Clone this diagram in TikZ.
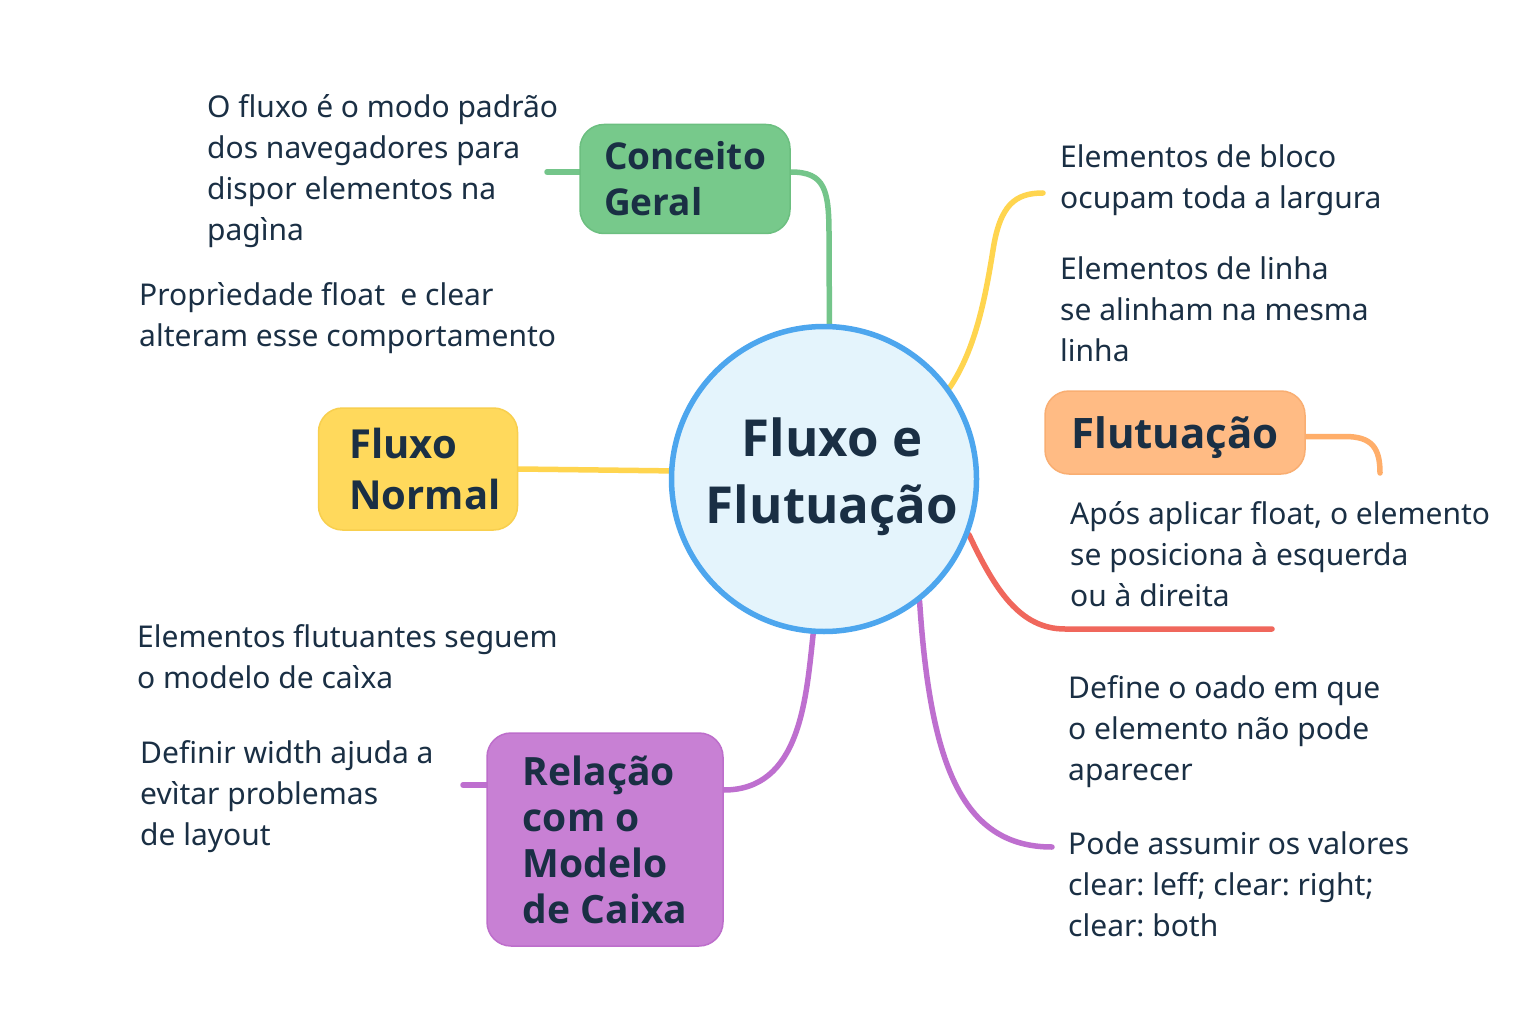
\documentclass[tikz,border=0pt]{standalone}
\usepackage{fontspec}
\setmainfont{Noto Sans}
\newfontfamily\lblfont{Open Sans}
\usetikzlibrary{backgrounds}
\definecolor{txt}{HTML}{1A2F44}
\definecolor{cgreen}{HTML}{77C98B}
\definecolor{dgreen}{HTML}{6CBF80}
\definecolor{lgreen}{HTML}{74C58A}
\definecolor{cyellow}{HTML}{FFD95C}
\definecolor{dyellow}{HTML}{F8CF4E}
\definecolor{lyellow}{HTML}{FFD54F}
\definecolor{corange}{HTML}{FFBB84}
\definecolor{dorange}{HTML}{F9AE72}
\definecolor{lorange}{HTML}{FFAE6A}
\definecolor{cpurple}{HTML}{C880D4}
\definecolor{dpurple}{HTML}{BD6ECB}
\definecolor{lpurple}{HTML}{BE6FCF}
\definecolor{cred}{HTML}{F0675C}
\definecolor{cblue}{HTML}{4DA6EE}
\definecolor{cbluefill}{HTML}{E4F4FC}
\frenchspacing
\begin{document}
\begin{tikzpicture}[x=1pt,y=-1pt,
  every node/.style={text=txt},
  note/.style={anchor=west, align=left, inner sep=0pt, font=\frenchspacing\fontsize{30}{41}\selectfont},
  topic/.style={rounded corners=24pt, align=left, inner sep=0pt, line width=1.5pt},
  link/.style={line width=5.5pt, line cap=round}]
\useasboundingbox (0,0) rectangle (1536,1024);

% central node
\node[circle, draw=cblue, line width=5.5pt, fill=cbluefill, minimum size=305pt, inner sep=0pt] (c) at (824,479) {};
\node[align=center, inner sep=0pt, font=\lblfont\bfseries\fontsize{51}{67}\selectfont] (ct) at (832,477) {Fluxo e\\Flutuação};

% topics
\node[topic, fill=cgreen, draw=dgreen, minimum width=210pt, minimum height=109pt,
      font=\lblfont\bfseries\fontsize{37}{46}\selectfont] (conc) at (685,179) {Conceito\\Geral};
\node[topic, fill=cyellow, draw=dyellow, minimum width=199pt, minimum height=122pt,
      font=\lblfont\bfseries\fontsize{40}{51}\selectfont] (fn) at (418,469) {\hspace*{14pt}Fluxo\\\hspace*{14pt}Normal};
\node[topic, fill=corange, draw=dorange, minimum width=260pt, minimum height=83pt, text depth=0pt,
      font=\lblfont\bfseries\fontsize{42}{50}\selectfont] (flu) at (1175,432.5) {Flutuação};
\node[topic, fill=cpurple, draw=dpurple, minimum width=236pt, minimum height=213pt,
      font=\lblfont\bfseries\fontsize{39}{46}\selectfont] (rel) at (605,839.5) {Relação\\com o\\Modelo\\de Caixa};

% notes
\node[note] (n1) at (207,171) {O fluxo é o modo padrão\\dos navegadores para\\dispor elementos na\\pagìna};
\node[note] (n2) at (139,318) {Proprìedade float\hspace{0.25em} e clear\\alteram esse comportamento};
\node[note] (n3) at (1060,180) {Elementos de bloco\\ocupam toda a largura};
\node[note] (n4) at (1060,309) {Elementos de linha\\se alinham na mesma\\linha};
\node[note] (n5) at (1070,554) {Após aplicar float, o elemento\\se posiciona à esquerda\\ou à direita};
\node[note] (n6) at (137,657) {Elementos flutuantes seguem\\o modelo de caìxa};
\node[note] (n7) at (140,797) {Definir width ajuda a\\evìtar problemas\\de layout};
\node[note] (n8) at (1068,732) {Define o oado em que\\o elemento não pode\\aparecer};
\node[note] (n9) at (1068,884) {Pode assumir os valores\\clear: leff; clear: right;\\clear: both};

% free ends
\coordinate (gEnd) at (547,172);
\coordinate (yEnd) at (1043,193);
\coordinate (oEnd) at (1380,473);
\coordinate (rEnd) at (1272,629);
\coordinate (pEnd) at (1052,847);
\coordinate (pStub) at (463,785);

\begin{scope}[on background layer]
  \fill[white] (0,0) rectangle (1536,1024);
  \draw[link, lgreen] (c.88) -- (829,235) .. controls (829,190) and (825,172) .. ([yshift=7pt]conc.east);
  \draw[link, lgreen] (gEnd) -- ([yshift=7pt]conc.west);
  \draw[link, lyellow] (fn.east) -- (c.177);
  \draw[link, lyellow] (c.36) .. controls (975,350) and (985,300) .. (993,250)
        .. controls (1000,205) and (1015,193) .. (yEnd);
  \draw[link, lorange] ([yshift=-4pt]flu.east) -- (1345,436.5) .. controls (1372,436.5) and (1380,448) .. (oEnd);
  \draw[link, cred] (c.-21) .. controls (995,590) and (1020,629) .. (1065,629) -- (rEnd);
  \draw[link, lpurple] (c.-94) .. controls (806,700) and (800,790) .. ([yshift=49.5pt]rel.east);
  \draw[link, lpurple] (pStub) -- ([yshift=54.5pt]rel.west);
  \draw[link, lpurple] (c.-52) .. controls (930,760) and (960,847) .. (pEnd);
\end{scope}
\end{tikzpicture}
\end{document}
